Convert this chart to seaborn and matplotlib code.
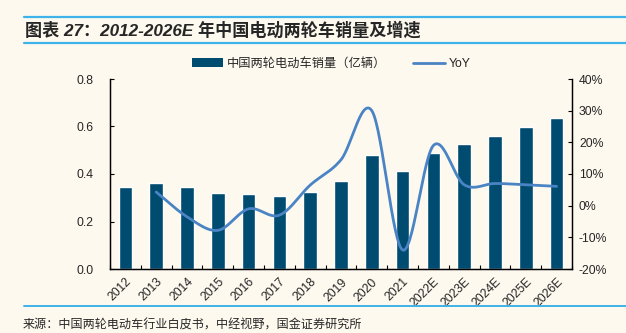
import numpy as np
import pandas as pd
import matplotlib
matplotlib.use("Agg")
import matplotlib.pyplot as plt
import seaborn as sns
from matplotlib.lines import Line2D
from matplotlib.patches import Patch

# --- data -------------------------------------------------------------
years = ["2012", "2013", "2014", "2015", "2016", "2017", "2018", "2019",
         "2020", "2021", "2022E", "2023E", "2024E", "2025E", "2026E"]
sales = [0.347, 0.362, 0.347, 0.321, 0.316, 0.308, 0.326, 0.372,
         0.478, 0.413, 0.488, 0.525, 0.559, 0.600, 0.636]
# year-on-year growth, % (no value for the first year)
yoy = [np.nan, 4.3, -3.5, -7.8, -1.0, -3.0, 6.5, 14.5,
       30.0, -14.0, 19.0, 6.6, 7.0, 6.6, 6.1]

bar_label = "中国两轮电动车销量（亿辆）"
line_label = "YoY"
title = "图表 27：2012-2026E 年中国电动两轮车销量及增速"
source = "来源：中国两轮电动车行业白皮书，中经视野，国金证券研究所"

BG = "#FDF9EF"
BAR = "#004B70"
LINE = "#4A84C4"
RULE = "#3DB3EA"

sns.set_theme(style="white")
plt.rcParams["font.family"] = ["Liberation Sans", "Noto Sans CJK SC", "DejaVu Sans"]
plt.rcParams["axes.unicode_minus"] = False

W, H = 626, 333
fig = plt.figure(figsize=(W / 100, H / 100), dpi=100, facecolor=BG)
ax = fig.add_axes([110 / W, 1 - 269 / H, (572 - 110) / W, (269 - 79) / H])
ax.set_facecolor(BG)

df = pd.DataFrame({"year": years, "sales": sales})
sns.barplot(data=df, x="year", y="sales", color=BAR, saturation=1,
            width=0.44, ax=ax, zorder=2)

ax.set_xlim(-0.5, len(years) - 0.5)
ax.set_ylim(0, 0.8)
ax.set_yticks(np.arange(0, 0.81, 0.2))
ax.set_yticklabels([f"{v:.1f}" for v in np.arange(0, 0.81, 0.2)], fontsize=8.8)
ax.set_xlabel("")
ax.set_ylabel("")

# category separators on the x-axis, labels centred on the bars
ax.set_xticks(np.arange(len(years)))
ax.set_xticklabels(years, rotation=45, ha="right", rotation_mode="anchor",
                   fontsize=8.8)
ax.tick_params(axis="x", which="major", length=0, pad=5)
ax.set_xticks(np.arange(-0.5, len(years), 1.0), minor=True)
ax.tick_params(axis="x", which="minor", direction="in", length=3,
               color="black", width=0.8, bottom=True)
ax.tick_params(axis="y", direction="in", length=3, color="black",
               width=0.8, left=True, pad=12)

for s in ["left", "bottom", "right"]:
    ax.spines[s].set_color("black")
    ax.spines[s].set_linewidth(0.9)
ax.spines["top"].set_visible(False)

# --- growth line on secondary axis --------------------------------------
ax2 = ax.twinx()
ax2.set_ylim(-20, 40)
ax2.set_yticks(np.arange(-20, 41, 10))
ax2.set_yticklabels([f"{v}%" for v in range(-20, 41, 10)], fontsize=8.8)
ax2.tick_params(axis="y", direction="in", length=3, color="black",
                width=0.8, right=True, pad=5)
ax2.spines["top"].set_visible(False)
for s in ["left", "bottom", "right"]:
    ax2.spines[s].set_color("black")
    ax2.spines[s].set_linewidth(0.9)


def smooth(xv, yv, n=30):
    """Catmull-Rom curve through the points (smoothed line rendering)."""
    xv = np.asarray(xv, float)
    yv = np.asarray(yv, float)
    px = np.concatenate([[2 * xv[0] - xv[1]], xv, [2 * xv[-1] - xv[-2]]])
    py = np.concatenate([[2 * yv[0] - yv[1]], yv, [2 * yv[-1] - yv[-2]]])
    out_x, out_y = [], []
    t = np.linspace(0, 1, n, endpoint=False)
    for i in range(1, len(px) - 2):
        p0, p1, p2, p3 = (np.array([px[j], py[j]]) for j in range(i - 1, i + 3))
        pts = 0.5 * ((2 * p1)[:, None]
                     + (-p0 + p2)[:, None] * t
                     + (2 * p0 - 5 * p1 + 4 * p2 - p3)[:, None] * t ** 2
                     + (-p0 + 3 * p1 - 3 * p2 + p3)[:, None] * t ** 3)
        out_x.extend(pts[0])
        out_y.extend(pts[1])
    out_x.append(xv[-1])
    out_y.append(yv[-1])
    return np.array(out_x), np.array(out_y)


idx = [i for i, v in enumerate(yoy) if not np.isnan(v)]
sx, sy = smooth(idx, [yoy[i] for i in idx])
sns.lineplot(x=sx, y=sy, sort=False, color=LINE, linewidth=2.0, ax=ax2,
             estimator=None, zorder=3)

# --- legend ------------------------------------------------------------
handles = [Patch(facecolor=BAR, edgecolor="none"),
           Line2D([0], [0], color=LINE, linewidth=2.0)]
fig.legend(handles, [bar_label, line_label], loc="center",
           bbox_to_anchor=(331 / W, 1 - 64 / H), ncol=2, frameon=False,
           fontsize=8.8, handlelength=2.6, handleheight=0.75,
           columnspacing=2.2, handletextpad=0.3)

# --- title block and source ------------------------------------------------
fig.add_artist(Line2D([24 / W, 1], [1 - 16.5 / H] * 2, color=RULE, lw=1.6))
fig.add_artist(Line2D([24 / W, 1], [1 - 43 / H] * 2, color=RULE, lw=1.6))
fig.add_artist(Line2D([24 / W, 1], [1 - 306 / H] * 2, color=RULE, lw=1.4))
fig.text(25 / W, 1 - 30 / H, title, fontsize=12.3, fontweight="bold",
         ha="left", va="center",
         family=["Liberation Sans", "Noto Sans CJK SC"], style="italic")
fig.text(23 / W, 1 - 325 / H, source, fontsize=8.7, ha="left", va="center",
         family=["Noto Sans CJK SC"])

fig.savefig("out.png", dpi=100, facecolor=BG)
